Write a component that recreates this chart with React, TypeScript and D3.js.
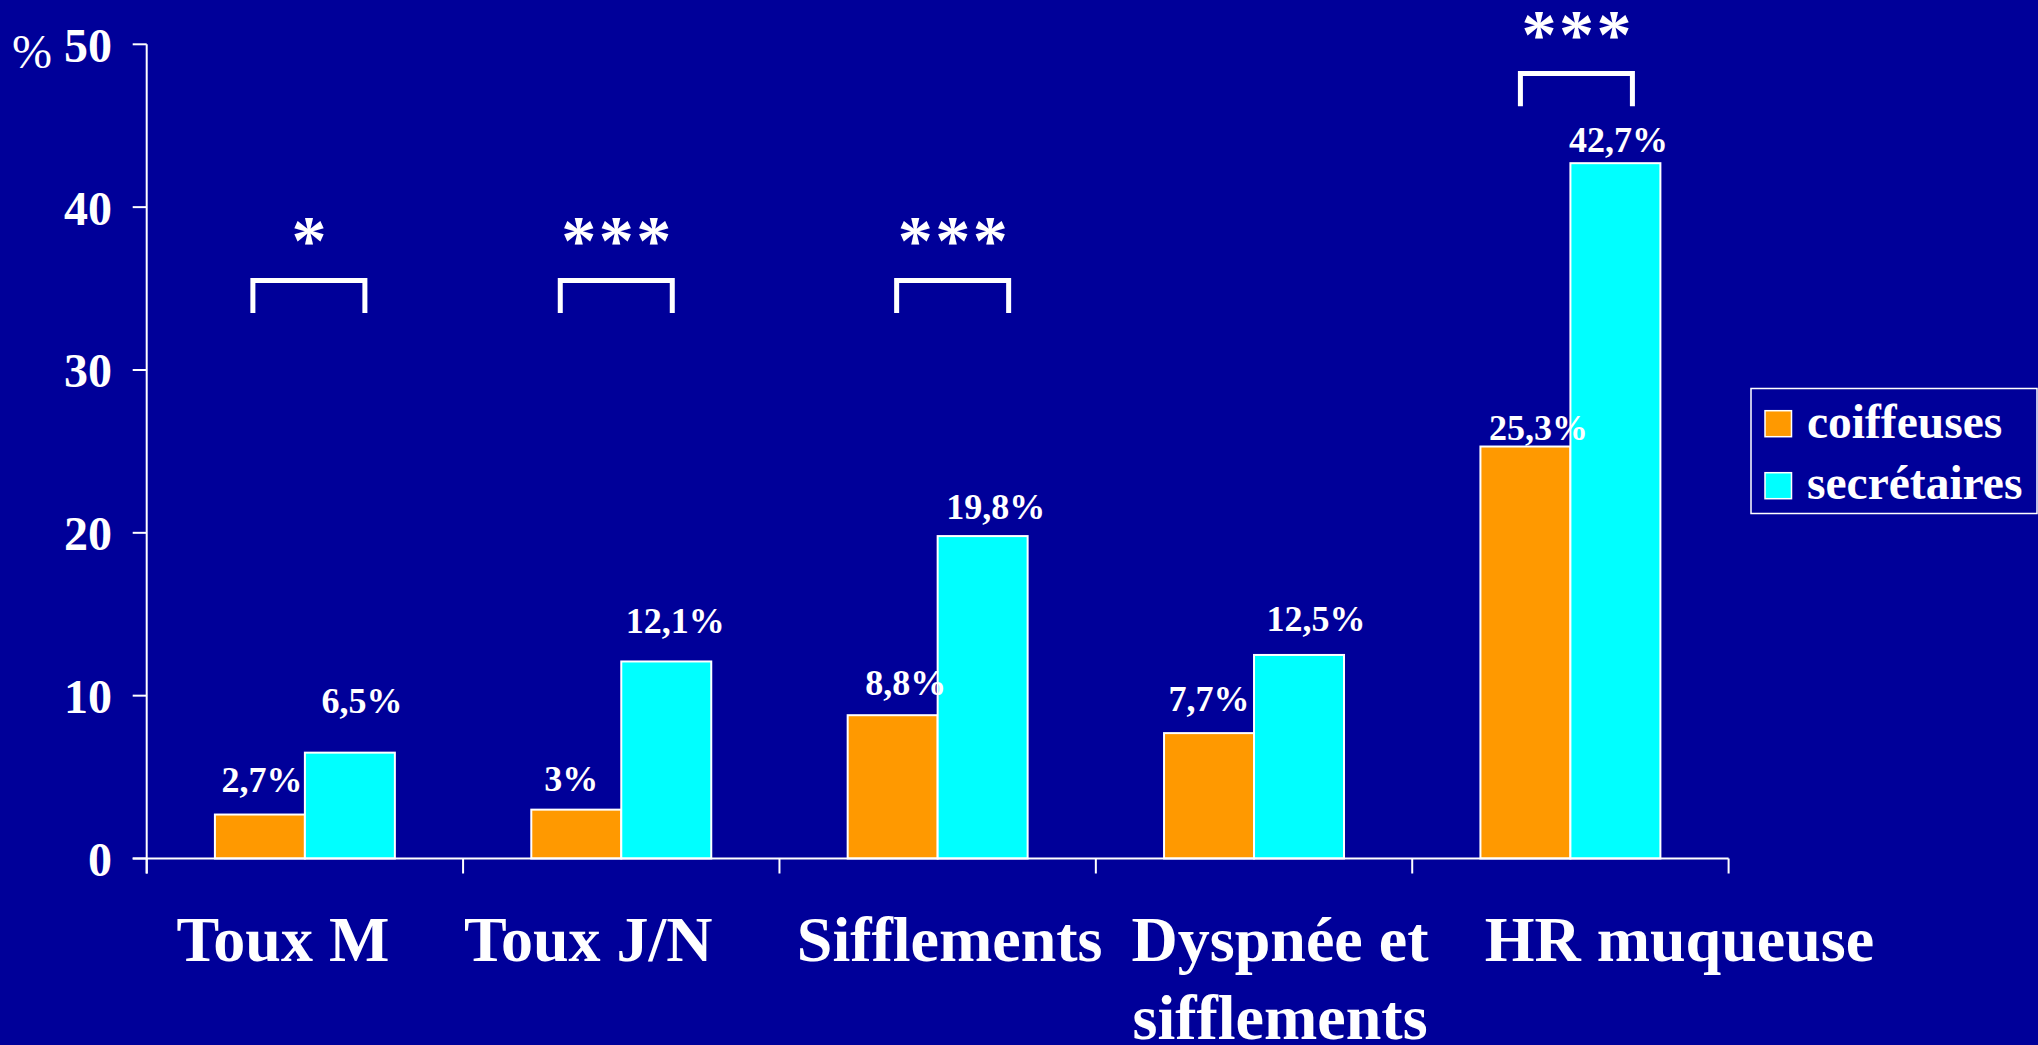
import React from "react";
import * as d3 from "d3";

const categories = ["Toux M", "Toux J/N", "Sifflements", "Dyspnée et\nsifflements", "HR muqueuse"];
const seriesNames = ["coiffeuses", "secrétaires"];
const coiffeuses = [2.7, 3, 8.8, 7.7, 25.3];
const secretaires = [6.5, 12.1, 19.8, 12.5, 42.7];
const yTicks = [0, 10, 20, 30, 40, 50];
const significance = ["*", "***", "***", "", "***"];
const bracketTop = [35.5, 35.5, 35.5, NaN, 48.2];
const colors = ["#FF9900", "#00FFFF"];

// layout nudges (pixels) for hand-placed annotations
const catLabelDx = [-22, -33, 12, 26, 109];
const bracketDx = [4, -5, 15, 0, 6];
const coifLabelNudge = [[2, 23], [-5, 19], [13, 20], [0, 22], [13, 7]];
const secLabelNudge = [[12, 40], [9, 28], [13, 17], [17, 24], [3, 11]];

const W = 2038;
const H = 1045;
const BG = "#000099";
const FONT = "'Liberation Serif', 'Times New Roman', serif";

function fmt(v: number) {
  return String(v).replace(".", ",") + "%";
}

export default function App() {
  const x = d3.scaleBand<string>().domain(categories).range([146.7, 1728.6]).padding(0);
  const x1 = d3
    .scaleBand<string>()
    .domain(seriesNames)
    .range([0, x.bandwidth()])
    .paddingInner(0)
    .paddingOuter(0.758);
  const y = d3.scaleLinear().domain([0, 50]).range([858.5, 44.3]);
  const bw = x1.bandwidth();
  const series = [coiffeuses, secretaires];
  const nudges = [coifLabelNudge, secLabelNudge];
  const axisX = x.range()[0];
  const axisRight = x.range()[1];
  const boundaries = categories.map((c) => x(c)!).concat([axisRight]);

  return (
    <svg
      width={W}
      height={H}
      style={{ position: "fixed", left: 0, top: 0, display: "block" }}
      fontFamily={FONT}
    >
      <rect x={0} y={0} width={W} height={H} fill={BG} />

      {/* bars */}
      {categories.map((c, i) =>
        series.map((s, k) => {
          const bx = x(c)! + x1(seriesNames[k])!;
          return (
            <rect
              key={c + k}
              x={bx}
              y={y(s[i])}
              width={bw}
              height={y(0) - y(s[i])}
              fill={colors[k]}
              stroke="#ffffff"
              strokeWidth={2}
            />
          );
        })
      )}

      {/* axes */}
      <line x1={axisX} x2={axisX} y1={y(50)} y2={y(0) + 15} stroke="#fff" strokeWidth={2} />
      <line x1={axisX - 14} x2={axisRight} y1={y(0)} y2={y(0)} stroke="#fff" strokeWidth={2} />
      {yTicks.map((t) => (
        <g key={t}>
          <line x1={axisX - 14} x2={axisX} y1={y(t)} y2={y(t)} stroke="#fff" strokeWidth={2} />
          <text
            x={112}
            y={y(t) + 17.5}
            textAnchor="end"
            fill="#fff"
            fontSize={48}
            fontWeight="bold"
          >
            {t}
          </text>
        </g>
      ))}
      {boundaries.map((bx, i) => (
        <line key={i} x1={bx} x2={bx} y1={y(0)} y2={y(0) + 15} stroke="#fff" strokeWidth={2} />
      ))}
      <text x={12} y={68} fill="#fff" fontSize={48}>
        %
      </text>

      {/* value labels */}
      {categories.map((c, i) =>
        series.map((s, k) => {
          const cx = x(c)! + x1(seriesNames[k])! + bw / 2 + nudges[k][i][0];
          return (
            <text
              key={"v" + c + k}
              x={cx}
              y={y(s[i]) - nudges[k][i][1]}
              textAnchor="middle"
              fill="#fff"
              fontSize={36}
              fontWeight="bold"
            >
              {fmt(s[i])}
            </text>
          );
        })
      )}

      {/* significance brackets */}
      {categories.map((c, i) => {
        if (!significance[i]) return null;
        const cx = x(c)! + x.bandwidth() / 2 + bracketDx[i];
        const top = y(bracketTop[i]);
        const bottom = y(bracketTop[i] - 2);
        return (
          <g key={"b" + c}>
            <path
              d={`M${cx - 56},${bottom} L${cx - 56},${top} L${cx + 56},${top} L${cx + 56},${bottom}`}
              fill="none"
              stroke="#fff"
              strokeWidth={5}
            />
            <text
              x={cx + 1.25}
              y={top - 16}
              textAnchor="middle"
              fill="#fff"
              fontSize={70}
              fontWeight="bold"
              letterSpacing={2.5}
            >
              {significance[i]}
            </text>
          </g>
        );
      })}

      {/* category labels */}
      {categories.map((c, i) => {
        const lines = c.split("\n");
        const cx = x(c)! + x.bandwidth() / 2 + catLabelDx[i];
        return (
          <text
            key={"c" + c}
            x={cx}
            y={961}
            textAnchor="middle"
            fill="#fff"
            fontSize={64}
            fontWeight="bold"
          >
            {lines.map((l, j) => (
              <tspan key={j} x={cx} dy={j === 0 ? 0 : 78}>
                {l}
              </tspan>
            ))}
          </text>
        );
      })}

      {/* legend */}
      <rect x={1751} y={388.5} width={286} height={125} fill={BG} stroke="#fff" strokeWidth={1.5} />
      {seriesNames.map((n, k) => (
        <g key={n}>
          <rect
            x={1765}
            y={410.7 + k * 62}
            width={26.5}
            height={26}
            fill={colors[k]}
            stroke="#fff"
            strokeWidth={1.5}
          />
          <text x={1807} y={438 + k * 61} fill="#fff" fontSize={47.5} fontWeight="bold">
            {n}
          </text>
        </g>
      ))}
    </svg>
  );
}
